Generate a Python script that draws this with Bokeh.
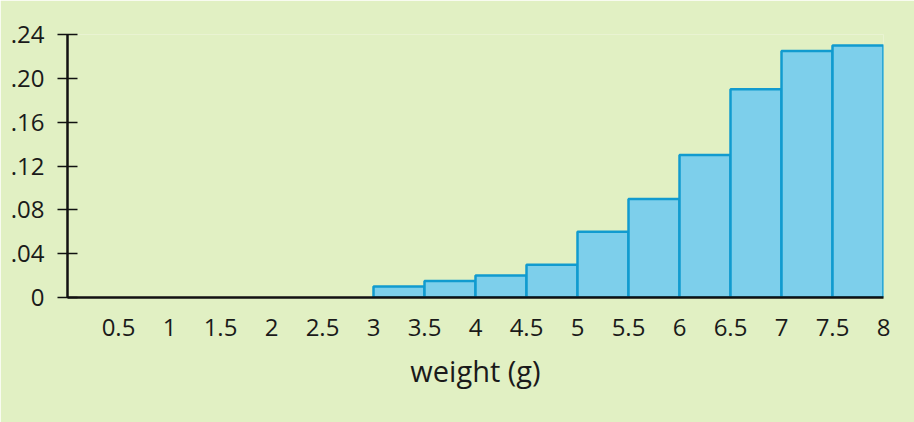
from bokeh.plotting import figure
from bokeh.models import Range1d, FixedTicker
from bokeh.embed import file_html
from bokeh.resources import INLINE

# histogram data: bin left edges (g), bin width and relative frequency
bin_left = [3, 3.5, 4, 4.5, 5, 5.5, 6, 6.5, 7, 7.5]
bin_width = 0.5
freq = [0.01, 0.015, 0.02, 0.03, 0.06, 0.09, 0.13, 0.19, 0.225, 0.23]

x_ticks = [0.5, 1, 1.5, 2, 2.5, 3, 3.5, 4, 4.5, 5, 5.5, 6, 6.5, 7, 7.5, 8]
x_labels = ["0.5", "1", "1.5", "2", "2.5", "3", "3.5", "4", "4.5", "5",
            "5.5", "6", "6.5", "7", "7.5", "8"]
y_ticks = [0, 0.04, 0.08, 0.12, 0.16, 0.20, 0.24]
y_labels = ["0", ".04", ".08", ".12", ".16", ".20", ".24"]

BG = "#e1f0c3"
FONT = "Open Sans"

p = figure(width=914, height=422, output_backend="svg", toolbar_location=None,
           x_range=Range1d(0, 8), y_range=Range1d(0, 0.24),
           min_border_left=67, min_border_right=31, min_border_top=34, min_border_bottom=125)
p.background_fill_color = BG
p.border_fill_color = BG
p.outline_line_color = None
p.grid.visible = False

lefts = bin_left
rights = [b + bin_width for b in bin_left]
p.quad(left=lefts, right=rights, bottom=0, top=freq,
       fill_color="#7dcfeb", line_color="#119bcf", line_width=2.5)

# x axis: labels only, no tick marks
p.xaxis.ticker = FixedTicker(ticks=x_ticks)
p.xaxis.major_label_overrides = dict(zip(x_ticks, x_labels))
p.xaxis.major_tick_in = 0
p.xaxis.major_tick_out = 0
p.xaxis.minor_tick_line_color = None
p.xaxis.major_label_standoff = 21
p.xaxis.axis_label = "weight (g)"
p.xaxis.axis_label_standoff = 12
p.xaxis.axis_label_text_font_size = "29px"
p.xaxis.axis_label_text_font_style = "normal"

# y axis: ticks crossing the line
p.yaxis.ticker = FixedTicker(ticks=y_ticks)
p.yaxis.major_label_overrides = dict(zip(y_ticks, y_labels))
p.yaxis.major_tick_in = 10
p.yaxis.major_tick_out = 10
p.yaxis.minor_tick_line_color = None
p.yaxis.major_label_standoff = 13

for ax in [p.xaxis, p.yaxis]:
    ax.axis_line_color = "#111111"
    ax.axis_line_width = 2.5
    ax.major_tick_line_color = "#111111"
    ax.major_tick_line_width = 1.5
    ax.major_label_text_font = FONT
    ax.major_label_text_font_size = "24px"
    ax.major_label_text_color = "#1a1a1a"
    ax.axis_label_text_font = FONT
    ax.axis_label_text_color = "#1a1a1a"

open("out.html", "w").write(file_html(p, INLINE))
